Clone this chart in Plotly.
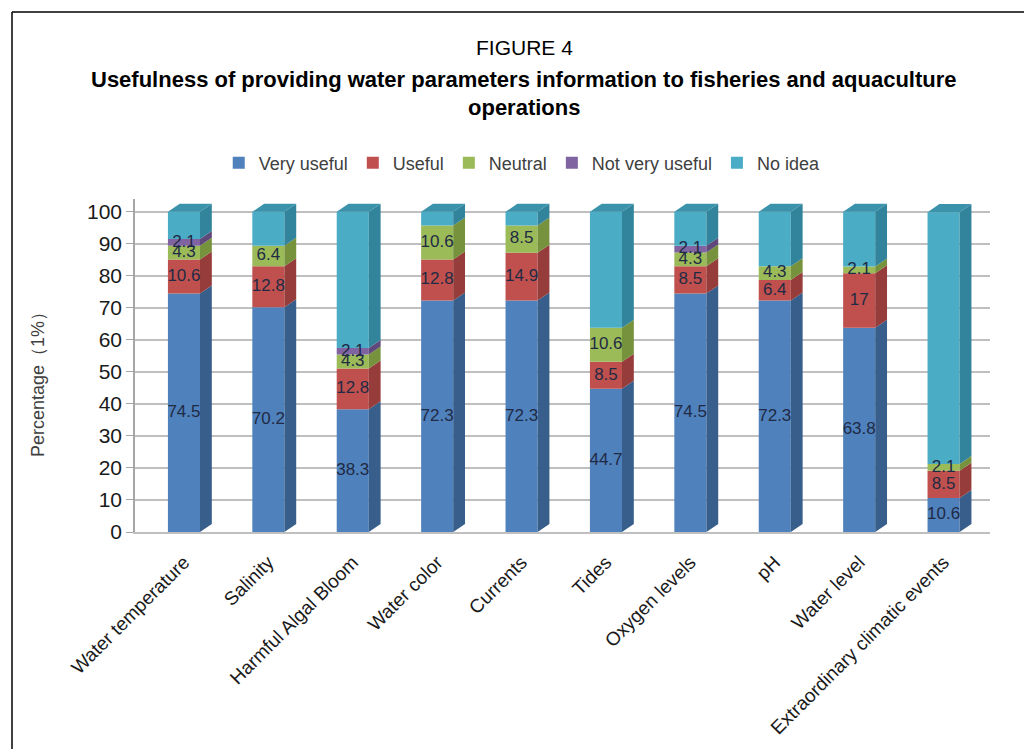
import plotly.graph_objects as go

categories = ["Water temperature", "Salinity", "Harmful Algal Bloom", "Water color", "Currents",
              "Tides", "Oxygen levels", "pH", "Water level", "Extraordinary climatic events"]
very_useful = [74.5, 70.2, 38.3, 72.3, 72.3, 44.7, 74.5, 72.3, 63.8, 10.6]
useful = [10.6, 12.8, 12.8, 12.8, 14.9, 8.5, 8.5, 6.4, 17, 8.5]
neutral = [4.3, 6.4, 4.3, 10.6, 8.5, 10.6, 4.3, 4.3, 2.1, 2.1]
not_very_useful = [2.1, 0, 2.1, 0, 0, 0, 2.1, 0, 0, 0]
no_idea = [8.5, 10.6, 42.5, 4.3, 4.3, 36.2, 10.6, 17, 17.1, 78.7]

series_names = ["Very useful", "Useful", "Neutral", "Not very useful", "No idea"]
series_vals = [very_useful, useful, neutral, not_very_useful, no_idea]
front_colors = ["#4F81BD", "#C0504D", "#9BBB59", "#8064A2", "#4BACC6"]
side_colors = ["#385E8B", "#963C3A", "#76923C", "#5F497A", "#31849B"]
top_color = "#3A93AB"
show_labels = [True, True, True, True, False]

W = 0.38   # bar width (x units)
DX = 0.14  # depth offset x
DY = 2.5   # depth offset y

xs = list(range(len(categories)))
fig = go.Figure()

bases = [0.0] * len(categories)
label_traces = []
for name, vals, fc, sc, lab in zip(series_names, series_vals, front_colors, side_colors, show_labels):
    fig.add_trace(go.Bar(x=xs, y=vals, base=bases[:], name=name, width=W,
                         marker=dict(color=fc, line=dict(width=0)), hoverinfo="skip"))
    px_, py_ = [], []
    for i, v in enumerate(vals):
        if v <= 0:
            continue
        b0, b1 = bases[i], bases[i] + v
        xr = i + W / 2
        px_ += [xr, xr + DX, xr + DX, xr, xr, None]
        py_ += [b0, b0 + DY, b1 + DY, b1, b0, None]
    fig.add_trace(go.Scatter(x=px_, y=py_, mode="lines", fill="toself", fillcolor=sc,
                             line=dict(width=0, color=sc), showlegend=False, hoverinfo="skip"))
    if lab:
        tx, ty, tt = [], [], []
        for i, v in enumerate(vals):
            if v > 0:
                tx.append(i)
                ty.append(bases[i] + v / 2)
                tt.append(f"{v:g}")
        label_traces.append(go.Scatter(x=tx, y=ty, text=tt, mode="text", showlegend=False,
                                       textfont=dict(family="Liberation Sans", size=17, color="#1F2A44"),
                                       cliponaxis=False, hoverinfo="skip"))
    bases = [b + v for b, v in zip(bases, vals)]

tpx, tpy = [], []
for i, top in enumerate(bases):
    xl, xr = i - W / 2, i + W / 2
    tpx += [xl, xl + DX, xr + DX, xr, xl, None]
    tpy += [top, top + DY, top + DY, top, top, None]
fig.add_trace(go.Scatter(x=tpx, y=tpy, mode="lines", fill="toself", fillcolor=top_color,
                         line=dict(width=0, color=top_color), showlegend=False, hoverinfo="skip"))
for t in label_traces:
    fig.add_trace(t)

L, R, T, B = 135, 34, 199, 217
PW, PH = 1024 - L - R, 749 - T - B


def px2x(p):
    return (p - L) / PW


def px2y(p):
    return (749 - B - p) / PH


fig.update_layout(
    width=1024, height=749,
    margin=dict(l=L, r=R, t=T, b=B, autoexpand=False),
    paper_bgcolor="white", plot_bgcolor="white",
    barmode="overlay",
    showlegend=True,
    legend=dict(orientation="h", xref="container", yref="container",
                x=0.51, xanchor="center", y=1 - 163 / 749, yanchor="middle",
                font=dict(family="Liberation Sans", size=18, color="#404040"),
                traceorder="normal", itemwidth=30),
    xaxis=dict(range=[-0.58, 9.55], tickmode="array", tickvals=xs, ticktext=categories,
               tickangle=-45, showgrid=False, zeroline=False, showline=True,
               linecolor="#BFBFBF", linewidth=1.5, ticks="", ticklabelstandoff=10,
               tickfont=dict(family="Liberation Sans", size=19, color="#1a1a1a")),
    yaxis=dict(range=[0, 104], tickmode="array", tickvals=list(range(0, 101, 10)),
               showgrid=True, gridcolor="#BFBFBF", gridwidth=1.5, zeroline=False,
               showline=True, linecolor="#A6A6A6", linewidth=1.5, ticks="outside",
               ticklen=7, tickcolor="#A6A6A6",
               tickfont=dict(family="Liberation Sans", size=21, color="#1a1a1a")),
    annotations=[
        dict(text="FIGURE 4", xref="paper", yref="paper", x=px2x(524), y=px2y(48),
             xanchor="center", yanchor="middle",
             showarrow=False, font=dict(family="Liberation Sans", size=21, color="black")),
        dict(text="<b>Usefulness of providing water parameters information to fisheries and aquaculture</b>",
             xref="paper", yref="paper", x=px2x(524), y=px2y(80), xanchor="center", yanchor="middle",
             showarrow=False, font=dict(family="Liberation Sans", size=22, color="black")),
        dict(text="<b>operations</b>", xref="paper", yref="paper", x=px2x(524), y=px2y(107),
             xanchor="center", yanchor="middle",
             showarrow=False, font=dict(family="Liberation Sans", size=22, color="black")),
        dict(text="Percentage（1%）", xref="paper", yref="paper", x=px2x(38), y=px2y(380),
             xanchor="center", yanchor="middle", textangle=-90, showarrow=False,
             font=dict(family="Liberation Sans", size=18, color="#404040")),
    ],
    shapes=[
        dict(type="line", xref="paper", yref="paper", x0=px2x(12), x1=px2x(12),
             y0=px2y(12), y1=px2y(760), line=dict(color="black", width=1.5)),
        dict(type="line", xref="paper", yref="paper", x0=px2x(12), x1=px2x(1030),
             y0=px2y(12), y1=px2y(12), line=dict(color="black", width=1.5)),
    ],
)

fig.write_html("out.html")
